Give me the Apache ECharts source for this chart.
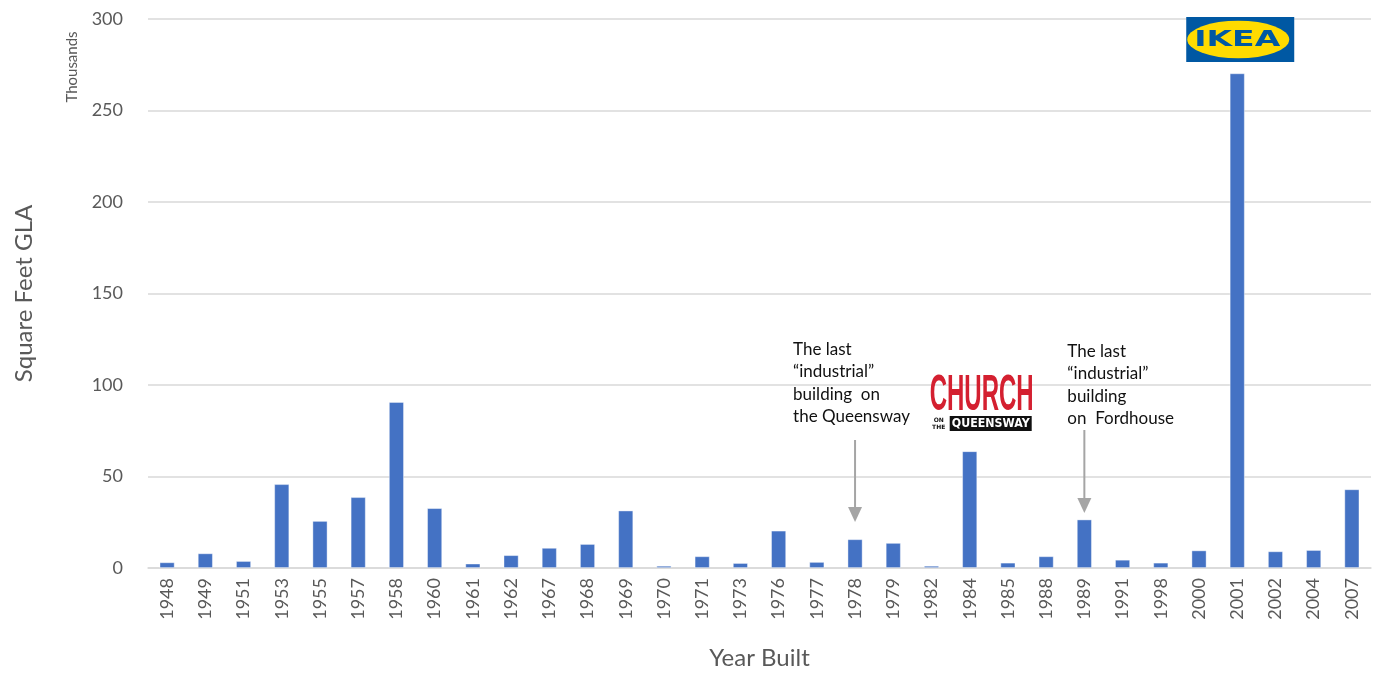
<!DOCTYPE html>
<html>
<head>
<meta charset="utf-8">
<script src="https://cdn.jsdelivr.net/npm/echarts@6/dist/echarts.min.js"></script>
<style>
  html, body { margin: 0; background: #fff; }
  #main { width: 1383px; height: 678px; }
</style>
</head>
<body>
<div id="main"></div>
<script>
// Year built and gross leasable area (thousands of sq ft)
const years = ['1948', '1949', '1951', '1953', '1955', '1957', '1958', '1960', '1961', '1962',
  '1967', '1968', '1969', '1970', '1971', '1973', '1976', '1977', '1978', '1979', '1982',
  '1984', '1985', '1988', '1989', '1991', '1998', '2000', '2001', '2002', '2004', '2007'];
const gla = [3.1, 8.0, 3.8, 45.8, 25.7, 38.7, 90.7, 32.7, 2.4, 7.0,
  11.0, 13.1, 31.4, 1.2, 6.4, 2.7, 20.4, 3.3, 15.7, 13.7, 1.2,
  63.8, 2.9, 6.4, 26.5, 4.5, 2.9, 9.6, 270.3, 9.1, 9.8, 43.0];
const yTicks = { min: 0, max: 300, step: 50 };

const notes = [
  { year: '1978', lines: ['The last', '\u201cindustrial\u201d', 'building  on', 'the Queensway'] },
  { year: '1989', lines: ['The last', '\u201cindustrial\u201d', 'building', 'on  Fordhouse'] }
];

const FONT = 'Lato, "Open Sans", sans-serif';
const grey = '#595959';

const chart = echarts.init(document.getElementById('main'));

chart.setOption({
  animation: false,
  textStyle: { fontFamily: FONT },
  grid: { left: 148, right: 12, top: 19, bottom: 110 },
  xAxis: {
    type: 'category',
    data: years,
    name: 'Year Built',
    nameLocation: 'middle',
    nameGap: 78,
    nameTextStyle: { fontSize: 24, color: grey },
    axisLine: { lineStyle: { color: '#d9d9d9', width: 1.5 } },
    axisTick: { show: false },
    axisLabel: { rotate: 90, fontSize: 18, color: grey, margin: 10, interval: 0 }
  },
  yAxis: {
    type: 'value',
    min: yTicks.min,
    max: yTicks.max,
    interval: yTicks.step,
    name: 'Square Feet GLA',
    nameLocation: 'middle',
    nameRotate: 90,
    nameGap: 112,
    nameTextStyle: { fontSize: 24, color: grey },
    axisLine: { show: false },
    axisTick: { show: false },
    axisLabel: { fontSize: 18, color: grey, margin: 25 },
    splitLine: { lineStyle: { color: '#d9d9d9', width: 1.5 } }
  },
  series: [{
    type: 'bar',
    data: gla,
    barWidth: 15,
    itemStyle: { color: '#4472c4', borderColor: 'rgba(255,255,255,0.5)', borderWidth: 0.8 }
  }]
});

function px(year, v) {
  return chart.convertToPixel({ xAxisIndex: 0, yAxisIndex: 0 }, [year, v]);
}

function arrow(x, y1, y2) {
  return [
    { type: 'line', shape: { x1: x, y1: y1, x2: x, y2: y2 - 12 }, style: { stroke: '#a5a5a5', lineWidth: 2 } },
    { type: 'polygon', shape: { points: [[x - 7, y2 - 15], [x + 7, y2 - 15], [x, y2]] }, style: { fill: '#a5a5a5' } }
  ];
}

const g = [];
g.push({
  type: 'text', x: 72, y: 67, rotation: Math.PI / 2,
  style: { text: 'Thousands', font: '15px ' + FONT, fill: grey, align: 'center', verticalAlign: 'middle' }
});

// note 1978
let p = px(notes[0].year, 0);
g.push({
  type: 'text', x: p[0] - 62, y: 338,
  style: { text: notes[0].lines.join('\n'), font: '17px ' + FONT, fill: '#111', lineHeight: 22.5 }
});
g.push(...arrow(p[0], 440, 522));

// note 1989
p = px(notes[1].year, 0);
g.push({
  type: 'text', x: p[0] - 17, y: 340,
  style: { text: notes[1].lines.join('\n'), font: '17px ' + FONT, fill: '#111', lineHeight: 22.5 }
});
g.push(...arrow(p[0], 430, 513));

// IKEA logo above the 2001 bar
p = px('2001', 0);
const ix = p[0] + 3;
g.push({
  type: 'group', x: ix, y: 39.5,
  children: [
    { type: 'rect', shape: { x: -54, y: -22.5, width: 108, height: 45 }, style: { fill: '#0058a3' } },
    { type: 'circle', x: -2, shape: { cx: 0, cy: 0, r: 51 }, scaleY: 0.37, style: { fill: '#ffdb00' } },
    { type: 'text', x: -3, y: 1, scaleX: 1.5, style: { text: 'IKEA', font: 'bold 22px "DejaVu Sans", sans-serif', fill: '#0058a3', align: 'center', verticalAlign: 'middle' } }
  ]
});

// Church on the Queensway logo above the 1984 bar
p = px('1984', 0);
const cx = p[0] + 12;
g.push({
  type: 'group', x: cx, y: 395,
  children: [
    { type: 'text', x: 0, y: 26, scaleX: 0.48, style: { text: 'CHURCH', font: 'bold 50px "Liberation Sans Narrow", "Liberation Sans", sans-serif', fill: '#d42030', align: 'center', verticalAlign: 'bottom' } },
    { type: 'text', x: -43, y: 29, style: { text: 'ON\nTHE', font: 'bold 6px "DejaVu Sans", sans-serif', fill: '#111', align: 'center', verticalAlign: 'middle', lineHeight: 7 } },
    { type: 'rect', shape: { x: -32, y: 21, width: 82, height: 15 }, style: { fill: '#111' } },
    { type: 'text', x: 9, y: 29, scaleX: 0.85, style: { text: 'QUEENSWAY', font: 'bold 13px "DejaVu Sans", sans-serif', fill: '#fff', align: 'center', verticalAlign: 'middle' } }
  ]
});

chart.setOption({ graphic: g });
</script>
</body>
</html>
